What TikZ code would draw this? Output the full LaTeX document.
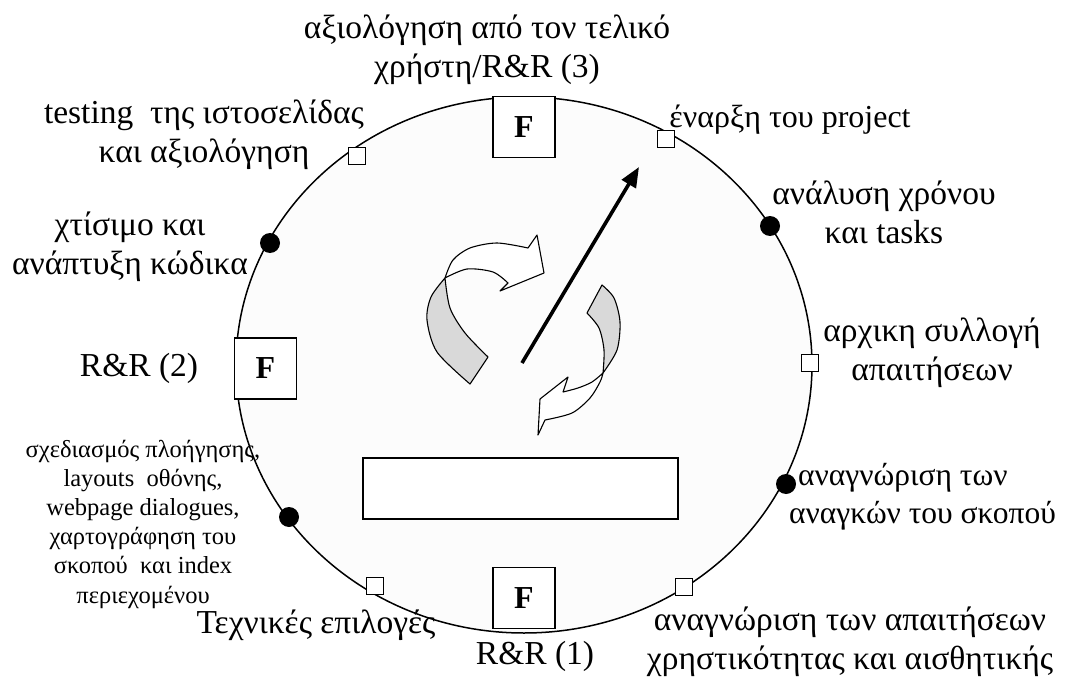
\documentclass[tikz,border=0pt]{standalone}
\usepackage{fontspec}
\setmainfont{Liberation Serif}
\usetikzlibrary{arrows.meta}
\begin{document}
\begin{tikzpicture}[x=1pt,y=-1pt,
  lbl/.style={font=\fontsize{33.5}{39}\selectfont, align=center, inner sep=0pt},
  smalllbl/.style={font=\fontsize{24.5}{29.2}\selectfont, align=center, inner sep=0pt},
  fbox/.style={draw, line width=1.2pt, fill=white, minimum width=62pt, minimum height=61pt, inner sep=0pt, font=\fontsize{32}{32}\selectfont\bfseries},
  sq/.style={draw, line width=0.9pt, fill=white, minimum size=17pt, inner sep=0pt},
  dot/.style={circle, fill=black, minimum size=20pt, inner sep=0pt},
  ribbon/.style={draw, line width=1.1pt, line join=round},
  ]
\useasboundingbox (0,0) rectangle (1066,682);
\fill[white] (0,0) rectangle (1066,682);
% main cycle
\draw[line width=1.5pt, fill=gray!2] (524,365) ellipse [x radius=288pt, y radius=268pt];
% central rectangle
\node[draw, line width=1.2pt, fill=white, minimum width=315pt, minimum height=61pt, inner sep=0pt] (rect) at (520.5,488.5) {};
% straight arrow
\coordinate (as0) at (522,363);
\coordinate (as1) at (639,167);
\draw[line width=3.6pt, -{Triangle[length=20pt,width=16pt]}] (as0) -- (as1);
% left curved arrow
\filldraw[ribbon, fill=gray!30] plot[smooth] coordinates {(445,278) (431,297) (427,320) (437,352) (470,384)}
  -- plot[smooth] coordinates {(488,357) (465,333) (450,308) (445,278)} -- cycle;
\filldraw[ribbon, fill=white] plot[smooth] coordinates {(445,278) (453,260) (470,248) (497,243) (528,248)}
  -- (537,235) -- (544,273) -- (500,291) -- (508,283)
  -- plot[smooth] coordinates {(508,283) (493,272) (467,269) (445,278)} -- cycle;
% right curved arrow
\filldraw[ribbon, fill=gray!30] plot[smooth] coordinates {(602,285) (614,298) (620,322) (617,350) (603,373)}
  -- plot[smooth] coordinates {(603,373) (604,350) (599,328) (587,313)} -- cycle;
\filldraw[ribbon, fill=white] plot[smooth] coordinates {(603,373) (592,382) (578,388) (563,392)}
  -- (568,377) -- (540,399) -- (538,435) -- (545,420)
  -- plot[smooth] coordinates {(545,420) (572,413) (590,398) (600,382) (603,373)} -- cycle;
% F boxes
\node[fbox] (ftop) at (524,127) {F};
\node[fbox] (fleft) at (265.5,368.5) {F};
\node[fbox] (fbot) at (524,598) {F};
% markers
\node[sq] (m1) at (666,139) {};
\node[dot] (m2) at (770,226) {};
\node[sq] (m3) at (810,363) {};
\node[dot] (m4) at (786,484) {};
\node[sq] (m5) at (684,587) {};
\node[sq] (m6) at (375,586) {};
\node[dot] (m7) at (289,517) {};
\node[dot] (m8) at (270,243) {};
\node[sq] (m9) at (357,156) {};
% labels
\node[lbl] (l1) at (487,50) {αξιολόγηση από τον τελικό\\χρήστη/R\&R (3)};
\node[lbl, font=\fontsize{32}{39}\selectfont] (l2) at (790,120) {έναρξη του project};
\node[lbl] (l3) at (884,212) {ανάλυση χρόνου\\και tasks};
\node[lbl] (l4) at (932,353) {αρχικη συλλογή\\απαιτήσεων};
\node[lbl, font=\fontsize{31.5}{38}\selectfont, align=left, anchor=west] (l5) at (789,497) {\hspace*{9pt}αναγνώριση των\\αναγκών του σκοπού};
\node[lbl] (l6) at (850,642) {αναγνώριση των απαιτήσεων\\χρηστικότητας και αισθητικής};
\node[lbl] (l7) at (535,656) {R\&R (1)};
\node[lbl] (l8) at (316,625) {Τεχνικές επιλογές};
\node[smalllbl] (l9) at (143,524) {σχεδιασμός πλοήγησης,\\layouts\ \ οθόνης,\\webpage dialogues,\\χαρτογράφηση του\\σκοπού\ \ και index\\περιεχομένου};
\node[lbl] (l10) at (139,368) {R\&R (2)};
\node[lbl] (l11) at (130,247) {χτίσιμο και\\ανάπτυξη κώδικα};
\node[lbl] (l12) at (204,135) {testing\ \ της ιστοσελίδας\\και αξιολόγηση};
\end{tikzpicture}
\end{document}
